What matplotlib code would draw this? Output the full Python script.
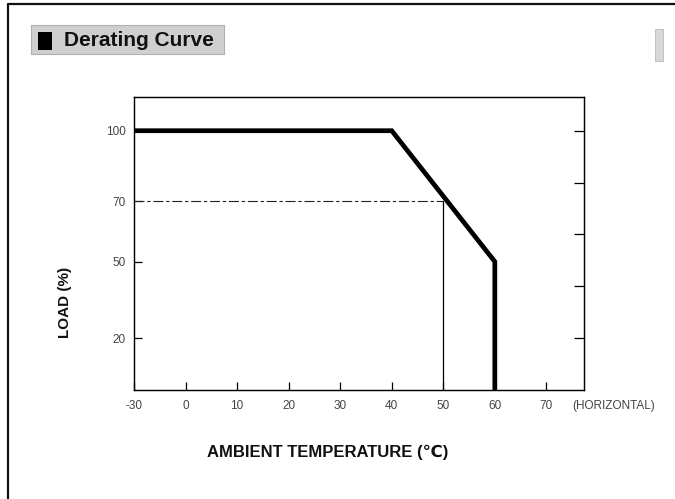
import numpy as np
import matplotlib
matplotlib.use('Agg')
import matplotlib.pyplot as plt
from matplotlib.patches import Rectangle

plt.rcParams['font.family'] = ['Liberation Sans', 'DejaVu Sans']

# data
temp = [-30, 40, 60, 60]
load = [100, 100, 50, 0]
ref_temp = 50
ref_load = 70
x_ticks = [-30, 0, 10, 20, 30, 40, 50, 60, 70]
y_ticks = [20, 50, 70, 100]
right_ticks = [20, 40, 60, 80, 100]

# the drawing is schematic: axis breakpoints (value -> position)
x_val = [-30, 0, 80]
x_pos = [-10, 0, 80]
y_val = [0, 20, 50, 70, 100, 115]
y_pos = [0, 20, 49.5, 72.7, 100, 115]

W, H = 675, 499
fig = plt.figure(figsize=(W / 100, H / 100), dpi=100)


def fx(px):
    return px / W


def fy(py):
    return 1 - py / H


# outer frame (only left/top visible)
fig.add_artist(plt.Line2D([fx(8), fx(8), fx(680)], [fy(505), fy(4), fy(4)],
                          transform=fig.transFigure, color='#111111', lw=1.6))

# title box
fig.add_artist(Rectangle((fx(31), fy(54)), fx(193), 29 / H, transform=fig.transFigure,
                         facecolor='#cfcfcf', edgecolor='#b0b0b0', lw=0.8))
fig.add_artist(Rectangle((fx(38), fy(50)), 14 / W, 18 / H, transform=fig.transFigure,
                         facecolor='black', edgecolor='none'))
fig.text(fx(64), fy(41), 'Derating Curve', fontsize=15, fontweight='bold',
         va='center', ha='left', color='#111111')
fig.add_artist(Rectangle((fx(655), fy(61)), 8 / W, 32 / H, transform=fig.transFigure,
                         facecolor='#d8d8d8', edgecolor='#bbbbbb', lw=0.6))

ax = fig.add_axes([fx(134), fy(390), fx(584) - fx(134), (390 - 97) / H])
ax.set_xscale('function', functions=(lambda v: np.interp(v, x_val, x_pos),
                                     lambda p: np.interp(p, x_pos, x_val)))
ax.set_yscale('function', functions=(lambda v: np.interp(v, y_val, y_pos),
                                     lambda p: np.interp(p, y_pos, y_val)))
ax.set_xlim(-30, 77.3)
ax.set_ylim(0, 113)

ax.plot(temp, load, color='black', lw=3.4, solid_joinstyle='miter', solid_capstyle='butt')
ax.plot([-30, ref_temp], [ref_load, ref_load], color='#222222', lw=0.8, dashes=(9, 2.5, 3, 2.5))
ax.plot([ref_temp, ref_temp], [0, ref_load], color='black', lw=0.9)

for s in ax.spines.values():
    s.set_linewidth(1.0)
    s.set_color('#222222')

ax.set_xticks(x_ticks)
ax.set_xticklabels([str(t) for t in x_ticks])
ax.set_yticks(y_ticks)
ax.set_yticklabels([str(t) for t in y_ticks])
ax.tick_params(direction='in', length=6, width=0.9, labelsize=8.5, labelcolor='#444444', pad=7)
ax.tick_params(axis='y', pad=6)

ax2 = ax.twinx()
ax2.set_ylim(0, 113)
ax2.set_yticks(right_ticks)
ax2.tick_params(direction='in', length=7, width=0.9, labelright=False)

fig.text(fx(572), fy(406), '(HORIZONTAL)', fontsize=8.5, color='#444444', va='center', ha='left')
fig.text(fx(65), fy(302), 'LOAD (%)', fontsize=11, fontweight='bold', rotation=90,
         va='center', ha='center', color='#111111')
fig.text(fx(207), fy(452), 'AMBIENT TEMPERATURE (\u2103)', fontsize=12, fontweight='bold',
         va='center', ha='left', color='#111111')

fig.savefig('out.png', dpi=100)
